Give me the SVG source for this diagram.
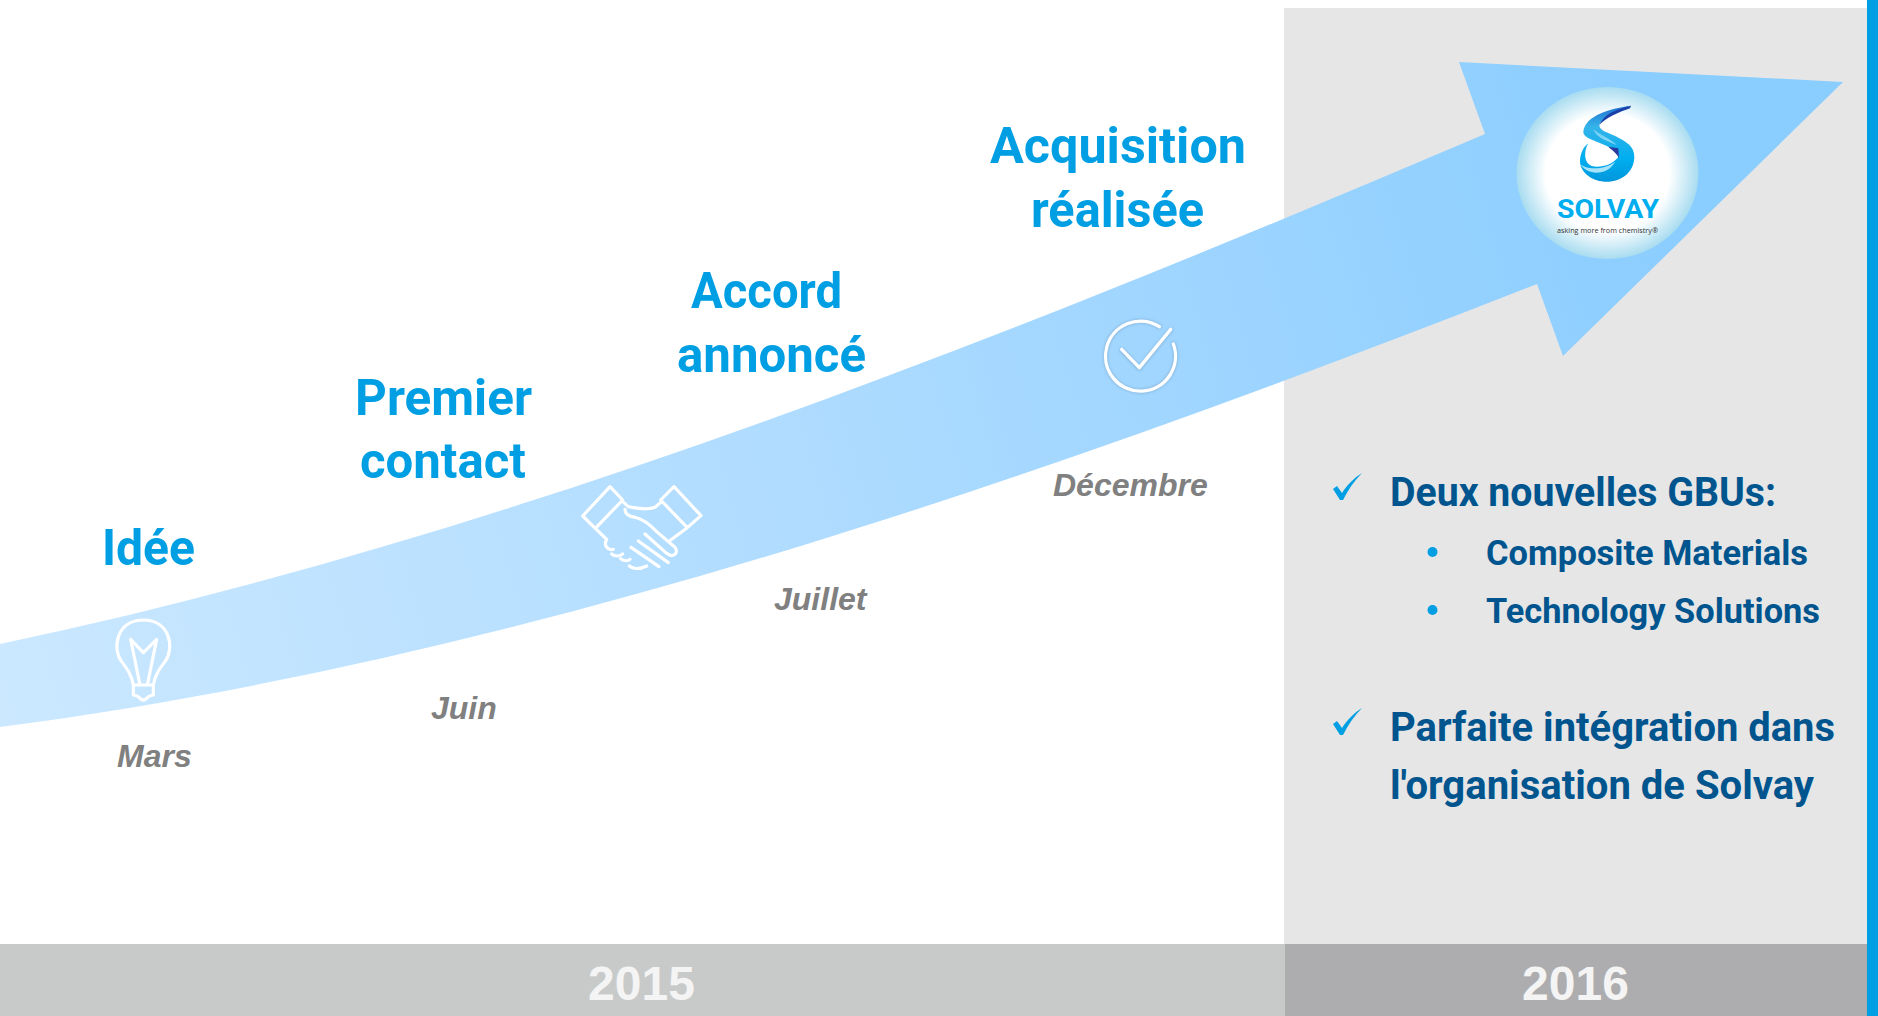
<svg xmlns="http://www.w3.org/2000/svg" width="1878" height="1016" viewBox="0 0 1878 1016">
<style>
.t{font-family:"Roboto","Noto Sans",sans-serif;font-weight:700}
.h{font-size:50px;fill:#009fe3}
.b{font-size:41px;fill:#00558f}
.s{font-size:35px;fill:#00558f}
.m{font-family:"Liberation Sans",Arial,sans-serif;font-weight:700;font-style:italic;font-size:32px;fill:#808080}
.y{font-family:"Liberation Sans",Arial,sans-serif;font-weight:700;font-size:48px;fill:#f4f4f4;text-anchor:middle}
.i{fill:none;stroke:#fff;stroke-width:9.5;stroke-linecap:round;stroke-linejoin:round}
.c{fill:#009fe3}
</style>
<defs>
<linearGradient id="arrowFill" gradientUnits="userSpaceOnUse" x1="0" y1="700" x2="1700" y2="200">
<stop offset="0" stop-color="#cbe8ff"/><stop offset="0.45" stop-color="#b0dcff"/><stop offset="1" stop-color="#8acdff"/>
</linearGradient>
<radialGradient id="halo">
<stop offset="0" stop-color="#fff"/><stop offset="0.68" stop-color="#fff"/><stop offset="1" stop-color="#a8dcf0"/>
</radialGradient>
<linearGradient id="swirl" x1="0" y1="0" x2="0" y2="1">
<stop offset="0" stop-color="#1f6fd0"/><stop offset="0.28" stop-color="#35b4ea"/><stop offset="0.7" stop-color="#00aeef"/><stop offset="1" stop-color="#0096dc"/>
</linearGradient>
<filter id="soft" x="-20%" y="-20%" width="140%" height="140%"><feGaussianBlur stdDeviation="5"/></filter>
<path id="tick" d="M0 16 L4 13 L9 20 C14 12 21 5 29 0 C21 8 15 17 10 27 L7 27 Z"/>
</defs>
<rect width="1878" height="1016" fill="#fff"/>
<rect id="panel-2016" x="1284" y="8" width="583" height="937" fill="#e6e6e6"/>
<rect id="edge-bar" x="1867" y="0" width="11" height="1016" fill="#009fe3"/>
<g id="year-2015"><rect x="0" y="944" width="1285" height="72" fill="#c8caca"/><text class="y" x="641.500" y="1000">2015</text></g>
<g id="year-2016"><rect x="1285" y="944" width="582" height="72" fill="#adadaf"/><text class="y" x="1575.500" y="1000">2016</text></g>

<g id="connectors">
<path id="growth-arrow" fill="url(#arrowFill)" d="M0 644 C495 540 990 345 1485 134 L1459 62 L1843 82 L1563 356 L1537 284 C1025 485 512 660 0 727 Z"/>
</g>

<g id="node-idee">
<text class="t h" x="102" y="565" textLength="93" lengthAdjust="spacingAndGlyphs">Idée</text>
<g transform="translate(90 600) scale(.3333)"><path class="i" d="M130 255 C125 225 110 205 95 185 C65 145 80 60 160 60 C240 60 255 145 225 185 C210 205 195 225 190 255 M130 255 H190 V285 Q175 288 170 295 Q160 305 150 295 Q145 288 130 285 Z M150 255 L122 118 L160 158 L200 118 L172 255"/></g>
<text class="m" x="117" y="767">Mars</text>
</g>
<g id="node-premier-contact">
<text class="t h" x="355" y="415" textLength="177" lengthAdjust="spacingAndGlyphs">Premier</text>
<text class="t h" x="360" y="478" textLength="166" lengthAdjust="spacingAndGlyphs">contact</text>
<text class="m" x="431" y="719">Juin</text>
</g>
<g id="node-accord">
<text class="t h" x="691" y="308" textLength="151" lengthAdjust="spacingAndGlyphs">Accord</text>
<text class="t h" x="677" y="372" textLength="189" lengthAdjust="spacingAndGlyphs">annoncé</text>
<g transform="translate(550 460) scale(.3333)"><path class="i" d="M98 168 L180 80 L218 120 L136 205 Z M332 120 L372 80 L453 167 L412 203 Z M218 125 L235 140 C260 145 295 150 315 142 L335 125 M412 203 L362 240 M225 148 C225 165 240 170 255 172 C285 180 300 195 320 215 L375 262 C388 280 368 295 350 280 L285 222 M265 243 L355 308 M243 262 L327 320 M136 205 L170 238 M170 238 C160 255 172 272 190 268 M185 282 C195 290 210 290 218 282 M212 296 C220 304 235 304 240 298 M238 318 C248 328 270 328 290 318"/></g>
<text class="m" x="774" y="610">Juillet</text>
</g>
<g id="node-acquisition">
<text class="t h" x="990" y="163" textLength="256" lengthAdjust="spacingAndGlyphs">Acquisition</text>
<text class="t h" x="1031" y="227" textLength="173" lengthAdjust="spacingAndGlyphs">réalisée</text>
<g transform="translate(1080 300) scale(.3333)">
<path class="i" style="stroke:#6b8fae;opacity:.5;stroke-width:12" filter="url(#soft)" d="M238 80 A105 105 0 1 0 280 132 M125 150 L178 205 L272 90"/>
<path class="i" style="stroke-width:10" d="M238 80 A105 105 0 1 0 280 132 M125 148 L178 203 L272 88"/>
</g>
<text class="m" x="1053" y="496">Décembre</text>
</g>

<g id="node-solvay">
<ellipse cx="1607.500" cy="173" rx="91" ry="86" fill="url(#halo)"/>
<g transform="translate(1480 40) scale(.3333)">
<path fill="url(#swirl)" d="M453 197 C395 205 315 225 310 275 C310 295 345 300 385 320 C415 335 418 350 412 355 C395 375 360 385 335 378 C312 370 310 335 325 310 C308 322 300 345 300 365 C302 400 340 425 380 425 C425 425 463 395 463 350 C463 320 440 305 410 290 C385 278 350 270 360 250 C372 228 420 208 453 197 Z"/>
<path fill="#1a3fa8" d="M453 197 C410 207 370 222 358 255 C375 235 420 215 450 205 Z"/>
<path fill="#2a3a9e" d="M385 320 L415 325 L417 355 C412 340 395 330 385 320 Z"/>
<path fill="#7fd4f5" d="M340 268 C360 285 390 295 410 315 C385 305 350 295 340 268 Z"/>
<path fill="#a6e2f8" d="M300 372 C320 390 375 390 405 365 C385 405 325 410 300 372 Z"/>
</g>
<text x="1557" y="218" font-family="Roboto,sans-serif" font-weight="700" font-size="25" fill="#00aeef" textLength="102" lengthAdjust="spacingAndGlyphs">SOLVAY</text>
<text x="1557" y="233" font-family="'Open Sans',sans-serif" font-size="7.5" fill="#333" textLength="101" lengthAdjust="spacingAndGlyphs">asking more from chemistry®</text>
</g>

<g id="node-gbus">
<use href="#tick" x="1333" y="473" class="c"/>
<text class="t b" x="1390" y="506" textLength="386" lengthAdjust="spacingAndGlyphs">Deux nouvelles GBUs:</text>
<circle class="c" cx="1432.500" cy="552" r="5"/>
<text class="t s" x="1486" y="565" textLength="322" lengthAdjust="spacingAndGlyphs">Composite Materials</text>
<circle class="c" cx="1432.500" cy="610" r="5"/>
<text class="t s" x="1486" y="623" textLength="334" lengthAdjust="spacingAndGlyphs">Technology Solutions</text>
</g>
<g id="node-integration">
<use href="#tick" x="1333" y="708" class="c"/>
<text class="t b" x="1390" y="741" textLength="445" lengthAdjust="spacingAndGlyphs">Parfaite intégration dans</text>
<text class="t b" x="1390" y="799" textLength="424" lengthAdjust="spacingAndGlyphs">l'organisation de Solvay</text>
</g>
</svg>
